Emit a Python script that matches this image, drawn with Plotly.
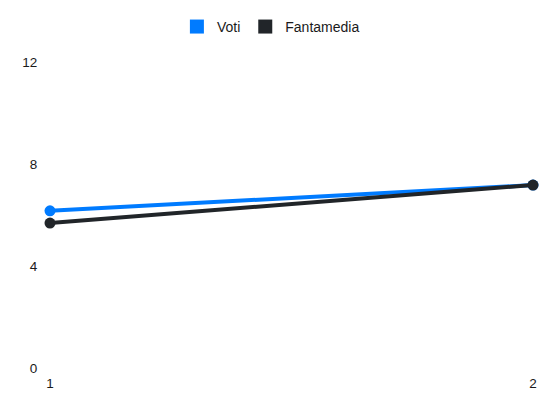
import plotly.graph_objects as go

# giornate / valori
giornate = [1, 2]
voti = [6.17, 7.18]
fantamedia = [5.69, 7.18]
y_ticks = [0, 4, 8, 12]

BLUE = "#007bff"
DARK = "#212529"

fig = go.Figure()

# linee vere (senza legenda)
for name, vals, col in [("Voti", voti, BLUE), ("Fantamedia", fantamedia, DARK)]:
    fig.add_trace(go.Scatter(
        x=giornate, y=vals, name=name, mode="lines+markers",
        line=dict(color=col, width=4),
        marker=dict(color=col, size=11),
        cliponaxis=False, showlegend=False, hoverinfo="x+y+name",
    ))

# voci di legenda a quadrato
for name, col in [("Voti", BLUE), ("Fantamedia", DARK)]:
    fig.add_trace(go.Scatter(
        x=[None], y=[None], name=name, mode="markers",
        marker=dict(color=col, size=14, symbol="square"),
        showlegend=True,
    ))

fig.update_layout(
    width=550, height=412,
    margin=dict(l=42, r=25, t=51, b=52),
    paper_bgcolor="white", plot_bgcolor="white",
    font=dict(family="Liberation Sans, Arial, sans-serif", size=13.5, color="#1a1a1a"),
    legend=dict(orientation="h", x=0.478, xanchor="center", xref="container",
                y=0.954, yanchor="middle", yref="container",
                itemwidth=30, tracegroupgap=0, font=dict(size=14)),
    xaxis=dict(range=[1, 2], tickvals=giornate, showgrid=False, zeroline=False,
               showline=False, ticks="outside", ticklen=3, tickcolor="white"),
    yaxis=dict(range=[0, 12], tickvals=y_ticks, showgrid=False, zeroline=False,
               showline=False, ticks="outside", ticklen=9, tickcolor="white"),
)

fig.write_html("out.html")
